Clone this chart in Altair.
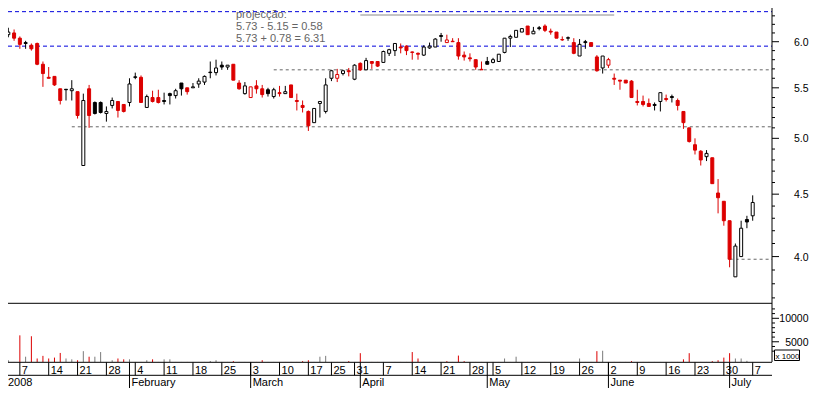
import altair as alt
import numpy as np
import pandas as pd

# ---------------- data ----------------
# trading-day number (0 = 2 Jan 2008, Euronext Lisbon calendar)
day_index = list(range(1, 131))

opens = [6.08, 6.10, 6.04, 5.99, 5.96, 5.98, 5.75, 5.61, 5.62, 5.49,
         5.485, 5.47, 5.46, 4.75, 5.49, 5.35, 5.35, 5.24, 5.32, 5.36,
         5.33, 5.35, 5.615, 5.61, 5.30, 5.40, 5.40, 5.37, 5.44, 5.42,
         5.55, 5.50, 5.50, 5.54, 5.56, 5.665, 5.66, 5.74, 5.72, 5.75,
         5.55, 5.44, 5.40, 5.52, 5.49, 5.48, 5.41, 5.45, 5.44, 5.53,
         5.37, 5.32, 5.26, 5.15, 5.34, 5.26, 5.60, 5.60, 5.65, 5.68,
         5.59, 5.76, 5.69, 5.78, 5.78, 5.77, 5.87, 5.90, 5.94, 5.95,
         5.885, 5.87, 5.85, 5.93, 5.94, 6.07, 5.99, 6.005, 5.99, 5.85,
         5.82, 5.80, 5.695, 5.78, 5.77, 5.78, 5.88, 6.04, 6.05, 6.11,
         6.18, 6.09, 6.16, 6.18, 6.12, 6.11, 6.025, 6.045, 5.99, 5.84,
         6.00, 5.99, 5.83, 5.71, 5.74, 5.60, 5.58, 5.58, 5.57, 5.36,
         5.36, 5.34, 5.33, 5.36, 5.39, 5.41, 5.37, 5.26, 5.10, 4.94,
         4.88, 4.83, 4.82, 4.51, 4.44, 4.28, 3.85, 4.00, 4.29, 4.32]
highs = [6.16, 6.14, 6.06, 6.01, 5.98, 5.99, 5.78, 5.72, 5.62, 5.49,
         5.485, 5.58, 5.46, 5.44, 5.53, 5.36, 5.36, 5.31, 5.40, 5.36,
         5.33, 5.60, 5.66, 5.63, 5.43, 5.47, 5.48, 5.45, 5.45, 5.49,
         5.55, 5.50, 5.55, 5.60, 5.63, 5.78, 5.80, 5.78, 5.74, 5.75,
         5.58, 5.56, 5.51, 5.58, 5.53, 5.50, 5.50, 5.52, 5.52, 5.53,
         5.44, 5.37, 5.27, 5.29, 5.36, 5.60, 5.69, 5.70, 5.69, 5.71,
         5.75, 5.77, 5.82, 5.78, 5.78, 5.90, 5.92, 5.98, 5.98, 5.96,
         5.89, 5.88, 5.96, 5.99, 6.04, 6.10, 6.08, 6.04, 6.04, 5.89,
         5.87, 5.80, 5.78, 5.83, 5.82, 5.86, 6.04, 6.08, 6.13, 6.15,
         6.18, 6.17, 6.18, 6.20, 6.15, 6.11, 6.06, 6.06, 6.04, 6.03,
         6.02, 5.99, 5.85, 5.84, 5.82, 5.65, 5.58, 5.58, 5.58, 5.48,
         5.42, 5.39, 5.35, 5.45, 5.43, 5.43, 5.39, 5.26, 5.10, 5.00,
         4.89, 4.89, 4.82, 4.63, 4.44, 4.28, 4.10, 4.28, 4.32, 4.49]
lows = [6.05, 6.01, 5.92, 5.92, 5.90, 5.74, 5.51, 5.60, 5.52, 5.33,
        5.37, 5.37, 5.19, 4.75, 5.10, 5.23, 5.24, 5.16, 5.29, 5.20,
        5.25, 5.31, 5.59, 5.35, 5.30, 5.35, 5.34, 5.33, 5.33, 5.39,
        5.42, 5.43, 5.50, 5.50, 5.53, 5.60, 5.63, 5.69, 5.69, 5.58,
        5.48, 5.43, 5.40, 5.44, 5.40, 5.41, 5.39, 5.41, 5.44, 5.40,
        5.27, 5.25, 5.07, 5.15, 5.20, 5.24, 5.57, 5.56, 5.63, 5.62,
        5.58, 5.68, 5.69, 5.70, 5.72, 5.77, 5.84, 5.84, 5.87, 5.85,
        5.80, 5.80, 5.84, 5.92, 5.94, 6.00, 5.99, 6.00, 5.80, 5.79,
        5.78, 5.69, 5.69, 5.75, 5.76, 5.78, 5.87, 5.94, 6.05, 6.11,
        6.08, 6.09, 6.13, 6.11, 6.08, 6.04, 6.01, 6.01, 5.86, 5.84,
        5.92, 5.94, 5.67, 5.65, 5.71, 5.53, 5.48, 5.55, 5.40, 5.32,
        5.31, 5.31, 5.27, 5.26, 5.36, 5.35, 5.27, 5.09, 4.96, 4.85,
        4.75, 4.79, 4.59, 4.34, 4.24, 3.92, 3.85, 4.00, 4.22, 4.28]
closes = [6.11, 6.04, 5.97, 5.98, 5.92, 5.75, 5.65, 5.60, 5.53, 5.37,
          5.48, 5.49, 5.22, 5.37, 5.22, 5.24, 5.25, 5.26, 5.37, 5.27,
          5.26, 5.54, 5.61, 5.35, 5.41, 5.36, 5.35, 5.36, 5.42, 5.47,
          5.49, 5.46, 5.51, 5.57, 5.62, 5.66, 5.71, 5.72, 5.74, 5.58,
          5.49, 5.52, 5.51, 5.49, 5.43, 5.44, 5.48, 5.44, 5.46, 5.40,
          5.36, 5.30, 5.12, 5.29, 5.36, 5.53, 5.68, 5.64, 5.68, 5.67,
          5.74, 5.69, 5.79, 5.76, 5.73, 5.89, 5.91, 5.98, 5.93, 5.90,
          5.88, 5.86, 5.94, 5.95, 6.03, 6.06, 6.02, 6.00, 5.84, 5.83,
          5.81, 5.72, 5.69, 5.75, 5.80, 5.86, 6.04, 6.06, 6.13, 6.15,
          6.08, 6.12, 6.15, 6.13, 6.11, 6.04, 6.02, 6.04, 5.87, 5.97,
          5.99, 5.95, 5.68, 5.84, 5.80, 5.59, 5.57, 5.55, 5.40, 5.35,
          5.33, 5.31, 5.32, 5.45, 5.38, 5.40, 5.32, 5.15, 4.97, 4.89,
          4.80, 4.86, 4.59, 4.47, 4.28, 3.98, 4.08, 4.22, 4.27, 4.43]
# volume, x 1000
volumes = [1070, 700, 6370, 1820, 6180, 1440, 2000, 1440, 1630, 2620,
           1440, 1260, 1070, 3000, 1820, 1820, 2810, 700, 1070, 1440,
           1260, 1260, 700, 700, 1070, 1260, 700, 1260, 1260, 700,
           700, 700, 700, 700, 700, 900, 1070, 700, 700, 880,
           700, 700, 700, 700, 1070, 700, 700, 700, 700, 700,
           700, 880, 1070, 700, 1820, 2000, 700, 700, 700, 880,
           700, 2570, 700, 700, 700, 700, 700, 700, 700, 700,
           2810, 1440, 700, 700, 700, 700, 880, 700, 2060, 880,
           700, 700, 700, 700, 700, 700, 1440, 700, 1820, 700,
           700, 700, 700, 700, 700, 700, 700, 700, 700, 1440,
           700, 700, 3000, 3090, 700, 700, 700, 700, 880, 700,
           700, 700, 700, 700, 700, 700, 700, 1260, 2570, 700,
           700, 700, 880, 1070, 1630, 2570, 1440, 1440, 940, 700]

day_tick_index = [3, 8, 13, 18, 23, 28, 33, 38, 43, 48, 53, 57, 61, 66, 71,
                  76, 81, 85, 90, 95, 100, 105, 110, 115, 120, 125, 130]
day_tick_label = ["7", "14", "21", "28", "4", "11", "18", "25", "3", "10",
                  "17", "25", "31", "7", "14", "21", "28", "5", "12", "19",
                  "26", "2", "9", "16", "23", "30", "7"]
month_index = [22, 43, 62, 84, 105, 126]
month_label = ["February", "March", "April", "May", "June", "July"]
year_label = "2008"

price_major = [4.0, 4.5, 5.0, 5.5, 6.0]
price_major_label = ["4.0", "4.5", "5.0", "5.5", "6.0"]
price_minor = [3.7, 3.8, 3.9, 4.1, 4.2, 4.3, 4.4, 4.6, 4.7, 4.8, 4.9,
               5.1, 5.2, 5.3, 5.4, 5.6, 5.7, 5.8, 5.9, 6.1, 6.2, 6.3]
vol_major = [5000, 10000]
vol_major_label = ["5000", "10000"]
vol_minor = [3000, 4000, 6000, 7000, 8000, 9000, 11000, 12000]

blue_levels = [6.35, 5.95]
support_levels = [5.69, 5.11, 3.98]
support_start = [47, 12, 126]
target_level = [6.31]
target_start = [62]
target_end = [106]

note_lines = ["projecção:", "5.73 - 5.15 = 0.58", "5.73 + 0.78 = 6.31"]
unit_label = "x 1000"

# ---------------- styling / layout ----------------
W, H = 764, 354          # plot area (price + volume panels)
PRICE_BOTTOM = 295.3     # separator between price and volume panels
RED = "#dc0000"
FONT = "Liberation Sans"

df = pd.DataFrame({"i": day_index, "o": opens, "h": highs, "l": lows,
                   "c": closes, "v": volumes})
prev = df["c"].shift(1)
df["dir"] = np.where(df["c"] < prev, "dn", "up")
df["fk"] = np.where(df["c"] > df["o"], "hollow", df["dir"])
df["btop"] = df[["o", "c"]].max(axis=1)
df["bbot"] = df[["o", "c"]].min(axis=1)

XS = alt.Scale(domain=[1.813, 132.48], nice=False, zero=False)
PS = alt.Scale(type="log", domain=[3.2785, 6.394], nice=False)
VS = alt.Scale(domain=[693, 76091], nice=False, zero=False)

X = alt.X("i:Q", scale=XS, axis=None)
dirscale = alt.Scale(domain=["dn", "up"], range=[RED, "#000000"])

wicks = alt.Chart(df).mark_rule(clip=True, strokeWidth=1).encode(
    x=X, y=alt.Y("l:Q", scale=PS, axis=None), y2="h:Q",
    color=alt.Color("dir:N", scale=dirscale, legend=None))

bodies = alt.Chart(df).mark_bar(size=3, clip=True, strokeWidth=1).encode(
    x=X, y=alt.Y("btop:Q", scale=PS, axis=None), y2="bbot:Q",
    fill=alt.Fill("fk:N", scale=alt.Scale(domain=["dn", "up", "hollow"],
                                          range=[RED, "#000000", "#ffffff"]), legend=None),
    stroke=alt.Stroke("dir:N", scale=dirscale, legend=None))

vol = alt.Chart(df).mark_rule(clip=True, strokeWidth=1).encode(
    x=X, y=alt.Y("v:Q", scale=VS, axis=None), y2=alt.value(H),
    color=alt.Color("dir:N", scale=alt.Scale(domain=["dn", "up"], range=[RED, "#7a7a7a"]),
                    legend=None))

blue = alt.Chart(pd.DataFrame({"lvl": blue_levels})).mark_rule(
    color="#0000dd", strokeDash=[4, 3], strokeWidth=1).encode(
    x=alt.value(0), x2=alt.value(W), y=alt.Y("lvl:Q", scale=PS, axis=None))

support = alt.Chart(pd.DataFrame({"lvl": support_levels, "s": support_start})).mark_rule(
    color="#666666", strokeDash=[3, 3], strokeWidth=1).encode(
    x=alt.X("s:Q", scale=XS, axis=None), x2=alt.value(W),
    y=alt.Y("lvl:Q", scale=PS, axis=None))

target = alt.Chart(pd.DataFrame({"lvl": target_level, "s": target_start, "e": target_end})).mark_rule(
    color="#8a8a8a", strokeWidth=1).encode(
    x=alt.X("s:Q", scale=XS, axis=None), x2="e:Q",
    y=alt.Y("lvl:Q", scale=PS, axis=None))

# right axes
pmaj = pd.DataFrame({"p": price_major, "lab": price_major_label})
pmin = pd.DataFrame({"p": price_minor})
vmaj = pd.DataFrame({"p": vol_major, "lab": vol_major_label})
vmin = pd.DataFrame({"p": vol_minor})

LAB_X = W + 36.5
p_major_ticks = alt.Chart(pmaj).mark_rule(color="black").encode(
    x=alt.value(W), x2=alt.value(W + 7), y=alt.Y("p:Q", scale=PS, axis=None))
p_minor_ticks = alt.Chart(pmin).mark_rule(color="black").encode(
    x=alt.value(W), x2=alt.value(W + 3), y=alt.Y("p:Q", scale=PS, axis=None))
p_labels = alt.Chart(pmaj).mark_text(align="right", baseline="middle", dy=1,
                                     fontSize=10.5, font=FONT, color="black").encode(
    x=alt.value(LAB_X), y=alt.Y("p:Q", scale=PS, axis=None), text="lab:N")

v_major_ticks = alt.Chart(vmaj).mark_rule(color="black").encode(
    x=alt.value(W), x2=alt.value(W + 7), y=alt.Y("p:Q", scale=VS, axis=None))
v_minor_ticks = alt.Chart(vmin).mark_rule(color="black").encode(
    x=alt.value(W), x2=alt.value(W + 3), y=alt.Y("p:Q", scale=VS, axis=None))
v_labels = alt.Chart(vmaj).mark_text(align="right", baseline="middle", dy=1,
                                     fontSize=10.5, font=FONT, color="black").encode(
    x=alt.value(LAB_X), y=alt.Y("p:Q", scale=VS, axis=None), text="lab:N")

one = pd.DataFrame({"d": [0]})


def hline(ypix):
    return alt.Chart(one).mark_rule(color="black", strokeWidth=1).encode(
        x=alt.value(0), x2=alt.value(W), y=alt.value(ypix))


axis_line = alt.Chart(one).mark_rule(color="black", strokeWidth=1).encode(
    x=alt.value(W), y=alt.value(0), y2=alt.value(H))

ddf = pd.DataFrame({"i": day_tick_index, "lab": day_tick_label})
mdf = pd.DataFrame({"i": month_index, "lab": month_label})

ROW1, ROW2, BOTTOM = H + 0.3, H + 13.3, H + 26
day_ticks = alt.Chart(ddf).mark_rule(color="black").encode(
    x=X, y=alt.value(ROW1), y2=alt.value(ROW2))
day_text = alt.Chart(ddf).mark_text(align="left", baseline="alphabetic", dx=2,
                                    fontSize=11, font=FONT, color="black").encode(
    x=X, y=alt.value(ROW1 + 11.3), text="lab:N")
month_ticks = alt.Chart(mdf).mark_rule(color="black").encode(
    x=X, y=alt.value(ROW1), y2=alt.value(BOTTOM))
month_text = alt.Chart(mdf).mark_text(align="left", baseline="alphabetic", dx=2,
                                      fontSize=11, font=FONT, color="black").encode(
    x=X, y=alt.value(ROW2 + 10.6), text="lab:N")
year_text = alt.Chart(one).mark_text(align="left", baseline="alphabetic", text=year_label,
                                     fontSize=11, font=FONT, color="black").encode(
    x=alt.value(0), y=alt.value(ROW2 + 10.6))

notes = [
    alt.Chart(one).mark_text(align="left", baseline="alphabetic", text=t,
                             fontSize=11, font=FONT, color="#646464").encode(
        x=alt.value(228), y=alt.value(yy))
    for t, yy in zip(note_lines, [10.0, 22.0, 34.0])
]

unit_box = alt.Chart(one).mark_rect(fill="white", stroke="black", strokeWidth=1).encode(
    x=alt.value(W + 2.5), x2=alt.value(W + 27.5), y=alt.value(H - 12), y2=alt.value(H - 1.5))
unit_text = alt.Chart(one).mark_text(align="left", baseline="alphabetic", text=unit_label,
                                     fontSize=8, font=FONT, color="black").encode(
    x=alt.value(W + 3.5), y=alt.value(H - 3.5))

chart = alt.layer(
    blue, support, target, wicks, bodies, vol,
    hline(PRICE_BOTTOM), hline(ROW1), hline(ROW2), axis_line,
    p_major_ticks, p_minor_ticks, p_labels,
    v_major_ticks, v_minor_ticks, v_labels,
    day_ticks, day_text, month_ticks, month_text, year_text,
    *notes, unit_box, unit_text,
).resolve_scale(
    y="independent", color="independent", fill="independent", stroke="independent"
).properties(
    width=W, height=H,
    padding={"left": 0, "top": 0, "right": 37, "bottom": 26},
    autosize=alt.AutoSizeParams(type="none"),
    background="white",
).configure_view(stroke=None)

chart.save("out.html", embed_options={"renderer": "svg", "actions": False})
